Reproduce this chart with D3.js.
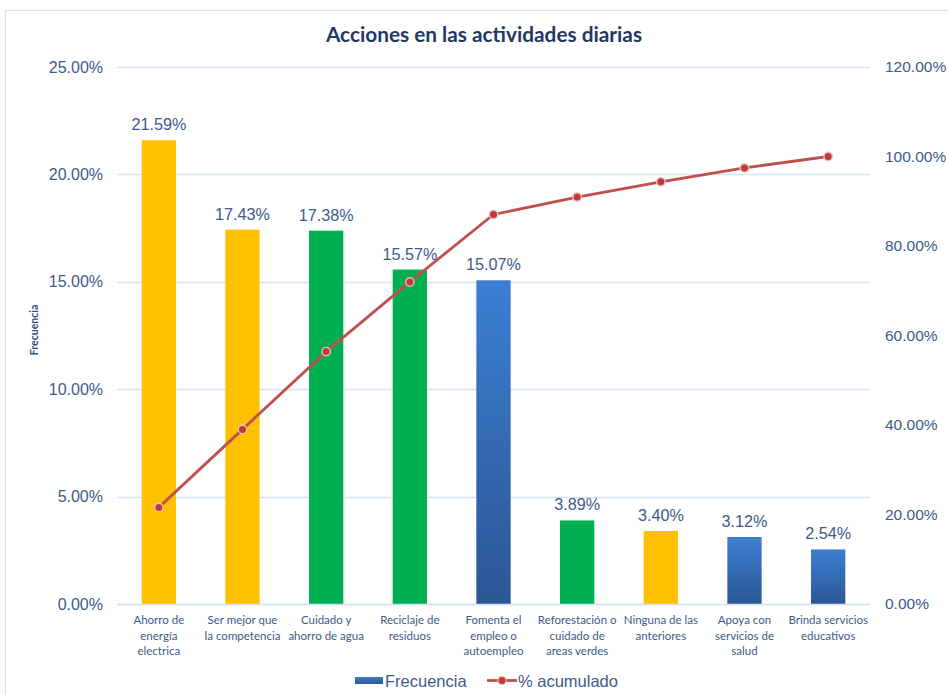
<!DOCTYPE html>
<html><head><meta charset="utf-8">
<script src="https://cdn.jsdelivr.net/npm/d3@7"></script>
<style>body{margin:0;background:#fff}svg{display:block}</style>
</head><body>
<svg id="c" width="948" height="695"></svg>
<script>
const categories = [
  ["Ahorro de","energía","electrica"],
  ["Ser mejor que","la competencia"],
  ["Cuidado y","ahorro de agua"],
  ["Reciclaje de","residuos"],
  ["Fomenta el","empleo o","autoempleo"],
  ["Reforestación o","cuidado de","areas verdes"],
  ["Ninguna de las","anteriores"],
  ["Apoya con","servicios de","salud"],
  ["Brinda servicios","educativos"]
];
const frecuencia = [21.59, 17.43, 17.38, 15.57, 15.07, 3.89, 3.40, 3.12, 2.54];
const acumulado = [21.59, 39.02, 56.40, 71.97, 87.04, 90.93, 94.33, 97.45, 100.00];
const barColorKeys = ["y","y","g","g","b","g","y","b","b"];
const leftTicks = [0, 5, 10, 15, 20, 25];
const rightTicks = [0, 20, 40, 60, 80, 100, 120];

const svg = d3.select("#c");
const W = 948, H = 695;
const m = {l:117, r:870, t:67, b:604};
const txt = "#3D5A8A";

// chart border
svg.append("path").attr("d", `M5.5,${H} V10.5 H${W}`).attr("fill","none").attr("stroke","#D4E1F2").attr("stroke-width",1.2);

const defs = svg.append("defs");
const grad = defs.append("linearGradient").attr("id","blueG").attr("x1",0).attr("y1",0).attr("x2",0).attr("y2",1);
grad.append("stop").attr("offset","0%").attr("stop-color","#3C7FD2");
grad.append("stop").attr("offset","100%").attr("stop-color","#2B5694");
const colorMap = {y:"#FFC000", g:"#00B050", b:"url(#blueG)"};

const x = d3.scaleBand().domain(d3.range(categories.length)).range([m.l, m.r]).paddingInner(0.59).paddingOuter(0.295);
const yL = d3.scaleLinear().domain([0, 25]).range([m.b, m.t]);
const yR = d3.scaleLinear().domain([0, 120]).range([m.b, m.t]);

// gridlines
svg.append("g").selectAll("line").data(leftTicks).join("line")
  .attr("x1", m.l).attr("x2", m.r)
  .attr("y1", d => Math.round(yL(d))+0.5).attr("y2", d => Math.round(yL(d))+0.5)
  .attr("stroke", "#D6E3F3").attr("stroke-width", 1.3);

// left axis
const axL = svg.append("g").attr("transform", `translate(${m.l},0)`)
  .call(d3.axisLeft(yL).tickValues(leftTicks).tickFormat(d => d.toFixed(2) + "%").tickSize(0).tickPadding(14));
axL.select(".domain").remove();
axL.selectAll("text").attr("fill", txt).style("font-family","'Liberation Sans', Arial, sans-serif").style("font-size","16px");

// right axis
const axR = svg.append("g").attr("transform", `translate(${m.r},0)`)
  .call(d3.axisRight(yR).tickValues(rightTicks).tickFormat(d => d.toFixed(2) + "%").tickSize(0).tickPadding(15));
axR.select(".domain").remove();
axR.selectAll("text").attr("fill", txt).style("font-family","'Liberation Sans', Arial, sans-serif").style("font-size","15.5px");

// bars
svg.append("g").selectAll("rect").data(frecuencia).join("rect")
  .attr("x", (d,i) => x(i)).attr("width", x.bandwidth())
  .attr("y", d => yL(d)).attr("height", d => yL(0) - yL(d))
  .attr("fill", (d,i) => colorMap[barColorKeys[i]]);

// bar labels
svg.append("g").selectAll("text").data(frecuencia).join("text")
  .attr("x", (d,i) => x(i) + x.bandwidth()/2).attr("y", d => yL(d) - 10)
  .attr("text-anchor","middle").attr("fill", txt)
  .style("font-family","'Liberation Sans', Arial, sans-serif").style("font-size","16.2px")
  .text(d => d.toFixed(2) + "%");

// x axis line
svg.append("line").attr("x1", m.l).attr("x2", m.r).attr("y1", m.b+0.5).attr("y2", m.b+0.5).attr("stroke","#D6E3F3").attr("stroke-width",1.3);

// category labels
const cl = svg.append("g").selectAll("text").data(categories).join("text")
  .attr("text-anchor","middle").attr("fill", txt)
  .style("font-family","Lato, 'Open Sans', sans-serif").style("font-size","11.5px");
cl.each(function(lines, i){
  d3.select(this).selectAll("tspan").data(lines).join("tspan")
    .attr("x", x(i) + x.bandwidth()/2).attr("y", (d,j) => 624 + j*15.5).text(d => d);
});

// cumulative line
const line = d3.line().x((d,i) => x(i) + x.bandwidth()/2).y(d => yR(d));
svg.append("path").datum(acumulado).attr("d", line).attr("fill","none").attr("stroke","#C0504D").attr("stroke-width",2.8);
svg.append("g").selectAll("circle").data(acumulado).join("circle")
  .attr("cx", (d,i) => x(i) + x.bandwidth()/2).attr("cy", d => yR(d)).attr("r", 4.2)
  .attr("fill","#C0393B").attr("stroke","#EAC3B8").attr("stroke-width",1.4);

// title
svg.append("text").attr("x", 484).attr("y", 42).attr("text-anchor","middle")
  .attr("fill","#1F3864").style("font-family","Lato, 'Open Sans', sans-serif").style("font-weight","bold").style("font-size","20.8px")
  .text("Acciones en las actividades diarias");

// y axis title
svg.append("text").attr("transform","translate(38,330) rotate(-90)").attr("text-anchor","middle")
  .attr("fill","#2F4F86").style("font-family","Lato, 'Open Sans', sans-serif").style("font-weight","bold").style("font-size","10.5px")
  .text("Frecuencia");

// legend
const lg = svg.append("g");
lg.append("rect").attr("x",355).attr("y",677).attr("width",28).attr("height",7).attr("fill","url(#blueG)");
lg.append("text").attr("x",385).attr("y",687).attr("fill",txt).style("font-family","'Liberation Sans', Arial, sans-serif").style("font-size","16.5px").text("Frecuencia");
lg.append("line").attr("x1",487).attr("x2",517).attr("y1",680.5).attr("y2",680.5).attr("stroke","#C0504D").attr("stroke-width",2.8);
lg.append("circle").attr("cx",502).attr("cy",680.5).attr("r",4).attr("fill","#C0393B").attr("stroke","#EAC3B8").attr("stroke-width",1.2);
lg.append("text").attr("x",518).attr("y",687).attr("fill",txt).style("font-family","'Liberation Sans', Arial, sans-serif").style("font-size","16.5px").text("% acumulado");
</script>
</body></html>
